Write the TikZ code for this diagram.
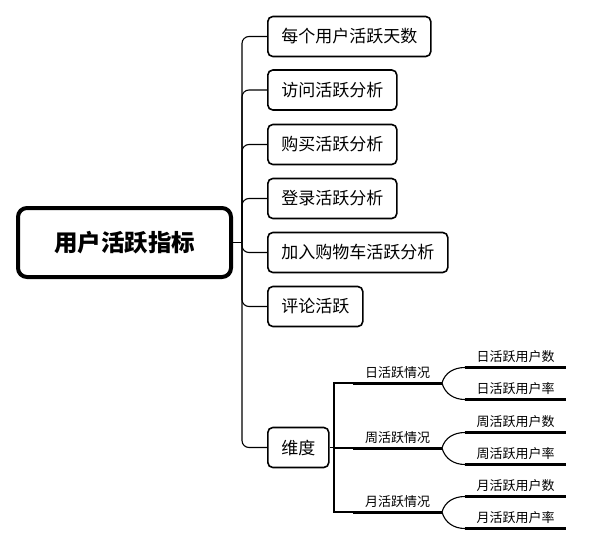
\documentclass[tikz,border=0pt]{standalone}
\usepackage{fontspec}
\setmainfont{Noto Sans CJK SC}
\usetikzlibrary{calc,positioning}

\begin{document}
\begin{tikzpicture}[x=1pt,y=-1pt,
  rootbox/.style={draw,line width=4pt,rounded corners=9pt,minimum width=213pt,minimum height=69pt,font=\fontsize{23.5}{26}\selectfont\bfseries},
  itembox/.style={draw,line width=1.6pt,rounded corners=5pt,minimum height=40pt,inner xsep=13.5pt,anchor=west,font=\fontsize{17}{20}\selectfont},
  link/.style={line width=1.1pt,rounded corners=7pt},
  bar/.style={line width=3pt},
  small/.style={font=\fontsize{13}{15}\selectfont,inner sep=3pt}]
  \useasboundingbox (0,0) rectangle (616,552);
  % root and first level
  \node[rootbox] (root) at (124.5,242.5) {用户活跃指标};
  \foreach \n/\y/\txt in {c1/36.5/每个用户活跃天数,c2/90/访问活跃分析,c3/144.5/购买活跃分析,c4/198.5/登录活跃分析,c5/252.5/加入购物车活跃分析,c6/306.5/评论活跃,c7/447.5/维度}
    \node[itembox] (\n) at (267,\y) {\txt};
  \coordinate (jn) at (242,242.5);
  \draw[link] (root.east) -- (jn);
  \foreach \n in {c1,c2,c3,c4,c5,c6,c7}
    \draw[link] (\n.west) -| (jn);
  % dimensions
  \coordinate (dj) at (334,447.5);
  \draw[line width=1.1pt] (c7.east) -- (dj);
  \foreach \g/\y/\txt/\pre in {g1/383/日活跃情况/日,g2/448/周活跃情况/周,g3/512/月活跃情况/月} {
    \coordinate (\g a) at (353,\y);
    \coordinate (\g b) at (442,\y);
    \draw[line width=1.1pt] (dj) |- (\g a);
    \draw[bar] (\g a) -- (\g b) node[midway,above,small] (\g) {\txt};
    \coordinate (\g ua) at (465,\y-15.5);
    \coordinate (\g ub) at (566,\y-15.5);
    \coordinate (\g da) at (465,\y+16.5);
    \coordinate (\g db) at (566,\y+16.5);
    \draw[line width=1.1pt] (\g b) to[out=75,in=180] (\g ua);
    \draw[line width=1.1pt] (\g b) to[out=-75,in=180] (\g da);
    \draw[bar] (\g ua) -- (\g ub) node[midway,above,small] (\g u) {\pre 活跃用户数};
    \draw[bar] (\g da) -- (\g db) node[midway,above,small] (\g d) {\pre 活跃用户率};
  }
\end{tikzpicture}
\end{document}
